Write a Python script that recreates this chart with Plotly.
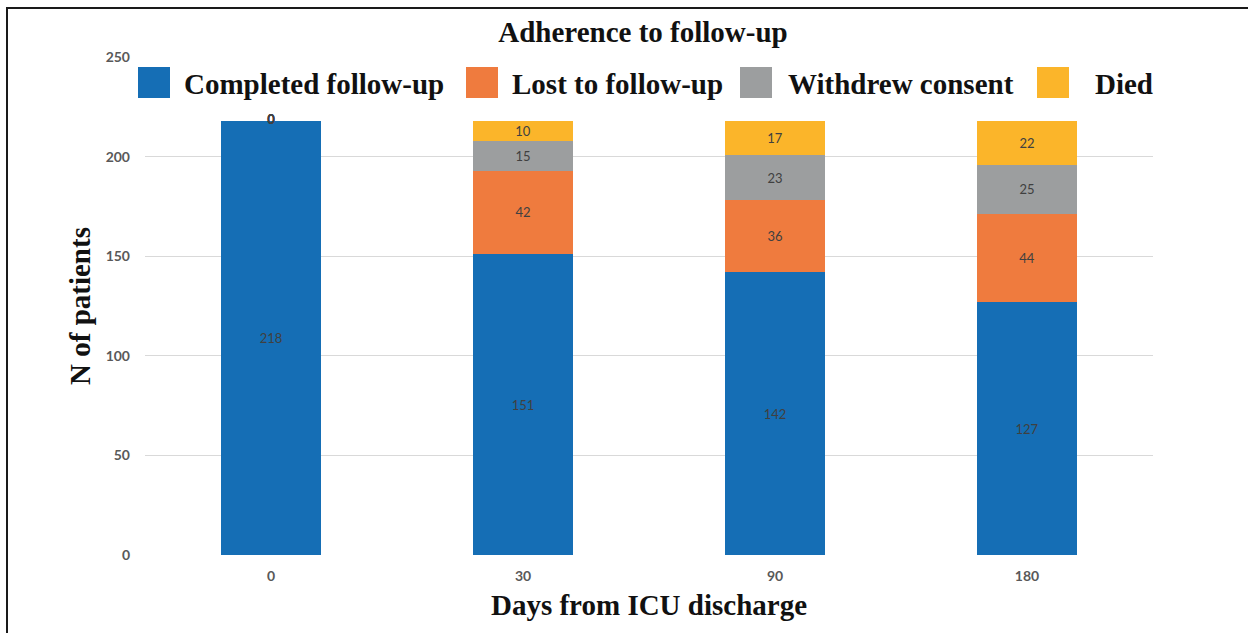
import plotly.graph_objects as go

# ---- data ----
days = ["0", "30", "90", "180"]
completed = [218, 151, 142, 127]
lost = [0, 42, 36, 44]
withdrew = [0, 15, 23, 25]
died = [0, 10, 17, 22]
series_names = ["Completed follow-up", "Lost to follow-up", "Withdrew consent", "Died"]
y_ticks = [0, 50, 100, 150, 200, 250]

series = [completed, lost, withdrew, died]
colors = ["#156EB5", "#EF7B3E", "#9C9E9F", "#FBB52A"]

FIG_W, FIG_H = 1248, 633
L, T, R, B = 145, 57, 95, 78
W = FIG_W - L - R
H = FIG_H - T - B


def px_x(px):
    return (px - L) / W


def px_y(py):
    return 1 - (py - T) / H


SERIF = "Liberation Serif"
LABEL_FONT = dict(family="Lato", size=13, color="#404040")

fig = go.Figure()
for name, vals, col in zip(series_names, series, colors):
    fig.add_trace(go.Bar(
        x=days, y=vals, name=name,
        marker=dict(color=col, line=dict(width=0)),
        text=[str(v) if v else "" for v in vals],
        textposition="inside", insidetextanchor="middle",
        textangle=0, constraintext="none",
        textfont=LABEL_FONT,
        showlegend=False,
    ))

# labels for zero-height segments, drawn at the top of the stack
zx, zy, zt = [], [], []
for i, d in enumerate(days):
    cum = 0
    for vals in series:
        cum += vals[i]
        if vals[i] == 0:
            zx.append(d)
            zy.append(cum)
            zt.append("0")
fig.add_trace(go.Scatter(x=zx, y=zy, text=zt, mode="text",
                         textposition="middle center",
                         textfont=dict(family="Lato", size=13, color="#404040", weight="bold"),
                         showlegend=False, hoverinfo="skip"))

shapes = []
annotations = []
# manual legend with large squares
leg_sq = [138, 466, 740, 1037]
leg_tx = [182, 510, 786, 1093]
for name, col, sx, tx in zip(series_names, colors, leg_sq, leg_tx):
    shapes.append(dict(type="rect", xref="paper", yref="paper",
                       x0=px_x(sx), x1=px_x(sx + 32), y0=px_y(98), y1=px_y(67),
                       fillcolor=col, line=dict(width=0)))
    annotations.append(dict(xref="paper", yref="paper", x=px_x(tx), y=px_y(84),
                            xanchor="left", yanchor="middle", showarrow=False,
                            text=name,
                            font=dict(family=SERIF, size=29, color="#111111", weight="bold")))

# frame lines (left and top)
shapes.append(dict(type="line", xref="paper", yref="paper",
                   x0=px_x(7), x1=px_x(7), y0=px_y(8), y1=px_y(640),
                   line=dict(color="#1a1a1a", width=2)))
shapes.append(dict(type="line", xref="paper", yref="paper",
                   x0=px_x(6), x1=px_x(1260), y0=px_y(8), y1=px_y(8),
                   line=dict(color="#1a1a1a", width=2)))

fig.update_layout(
    width=FIG_W, height=FIG_H,
    margin=dict(l=L, r=R, t=T, b=B),
    paper_bgcolor="white", plot_bgcolor="white",
    barmode="stack", bargap=0.6,
    title=dict(text="Adherence to follow-up", x=643 / FIG_W, y=1 - 32 / FIG_H,
               xref="container", yref="container", xanchor="center", yanchor="middle",
               font=dict(family=SERIF, size=29, color="#111111", weight="bold")),
    shapes=shapes, annotations=annotations,
    xaxis=dict(type="category", categoryorder="array", categoryarray=days,
               showgrid=False, zeroline=False, showline=False, ticks="",
               ticklabelstandoff=11,
               tickfont=dict(family="Lato", size=14, color="#595959", weight="bold"),
               title=dict(text="Days from ICU discharge", standoff=11,
                          font=dict(family=SERIF, size=29, color="#111111", weight="bold"))),
    yaxis=dict(range=[0, 250], tickvals=y_ticks, showgrid=True, gridcolor="#D9D9D9",
               gridwidth=1, zeroline=False, showline=False, ticks="",
               ticklabelstandoff=14,
               tickfont=dict(family="Lato", size=14, color="#595959", weight="bold"),
               title=dict(text="N of patients", standoff=6,
                          font=dict(family=SERIF, size=29, color="#111111", weight="bold"))),
)

fig.write_html("out.html", config={"displayModeBar": False},
               post_script="document.body.style.margin='0';document.body.style.overflow='hidden';")
